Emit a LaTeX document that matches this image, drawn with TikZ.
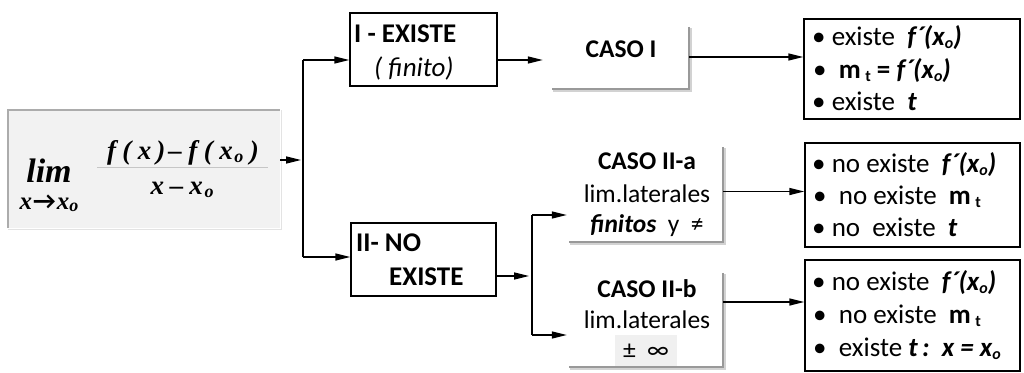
\documentclass[tikz,border=0pt]{standalone}
\usepackage{fontspec}
\setmainfont{Carlito}
\newfontfamily\tser{Liberation Serif}
\usetikzlibrary{arrows.meta}
\newcommand\sbs[1]{\raisebox{-0.3ex}{\fontsize{16}{16}\selectfont #1}}
\newcommand\msb[1]{\raisebox{-0.25ex}{\fontsize{18}{18}\selectfont #1}}
\newcommand\fp{{\bfseries\itshape f´(x\sbs{o})}}
\begin{document}
\begin{tikzpicture}[x=1pt,y=-1pt,
  conn/.style={line width=1.5pt},
  arr/.style={conn,-{Triangle[length=15pt,width=7pt]}},
  plainbox/.style={draw, line width=1.3pt, rectangle, inner sep=0},
  emptybox/.style={rectangle, inner sep=0},
  txt/.style={inner sep=0, anchor=base west, font=\fontsize{27}{28}\selectfont},
  ctxt/.style={inner sep=0, anchor=base, font=\fontsize{25.5}{27}\selectfont},
  mtxt/.style={inner sep=0, anchor=base, font=\tser\bfseries\itshape\fontsize{27}{28}\selectfont},
  shline/.style={line width=1.6pt, draw=gray!80},
  shlight/.style={line width=1.6pt, draw=gray!35}]
\useasboundingbox (0,0) rectangle (1024,372);

% limit box
\node[emptybox, fill=gray!10, minimum width=272pt, minimum height=118pt] (lim) at (144,169) {};
\draw[line width=2pt, draw=gray!65] (lim.south west) -- (lim.north west) -- (lim.north east);
\draw[line width=1.2pt, draw=gray!22] ([shift={(1pt,0pt)}]lim.north east) -- ([shift={(1pt,-1pt)}]lim.south east) -- ([shift={(0pt,-1pt)}]lim.south west);
\node[mtxt, font=\tser\bfseries\itshape\fontsize{34}{35}\selectfont] (limw) at (49,182) {lim};
\node[mtxt, font=\tser\bfseries\itshape\fontsize{25}{26}\selectfont] (limsub) at (49,209) {x\kern1pt{\normalfont\bfseries →}\kern1pt x\msb{o}};
\node[mtxt] (num) at (183,159) {f\kern6.5pt(\kern6.5pt x\kern5pt)\kern3pt–\kern6.5pt f\kern6.5pt(\kern6.5pt x\kern1.5pt\msb{o}\kern6.5pt)};
\node[mtxt] (den) at (182,194) {x\kern6pt–\kern6pt x\kern1.5pt\msb{o}};
\draw[line width=1pt, draw=gray!45] (97,167) -- (268,167);

% first level
\node[plainbox, minimum width=147pt, minimum height=73pt] (bI) at (423.5,49.5) {};
\node[txt] (bIa) at (354,42) {\bfseries I - EXISTE};
\node[txt] (bIb) at (374,76) {\itshape ( finito)};
\node[plainbox, minimum width=145pt, minimum height=73pt] (bII) at (423.5,259.5) {};
\node[txt] (bIIa) at (356,251) {\bfseries II- NO};
\node[txt] (bIIb) at (389,285) {\bfseries EXISTE};

% cases
\node[emptybox, minimum width=137pt, minimum height=62pt] (cI) at (620.5,58) {};
\node[ctxt] (cIt) at (621,57) {\bfseries CASO I};
\node[emptybox, minimum width=154pt, minimum height=95pt] (cIIa) at (646,194.5) {};
\node[ctxt] (cIIa1) at (647,169) {\bfseries CASO II-a};
\node[ctxt] (cIIa2) at (647,202) {lim.laterales};
\node[ctxt] (cIIa3) at (647,232) {{\bfseries\itshape finitos}\ \ y\ \ ≠};
\node[emptybox, minimum width=154pt, minimum height=94pt] (cIIb) at (646,320) {};
\node[ctxt] (cIIb1) at (647,297) {\bfseries CASO II-b};
\node[ctxt] (cIIb2) at (647,328) {lim.laterales};
\node[emptybox, fill=gray!12, minimum width=62pt, minimum height=32pt] (pminf) at (646,351) {};
\node[ctxt] (cIIb3) at (646,358) {±\ \ ∞};
\foreach \n in {cI,cIIa,cIIb}{
  \draw[shlight] ([shift={(1.5pt,-1.5pt)}]\n.north east) -- ([shift={(1.5pt,-1.5pt)}]\n.south east) -- ([shift={(1.5pt,-1.5pt)}]\n.south west);
  \draw[shline] (\n.north east) -- (\n.south east) -- (\n.south west);
}

% result boxes
\node[plainbox, minimum width=216pt, minimum height=100pt] (r1) at (912,69) {};
\node[txt] (r1a) at (812,45) {• existe\ \ \fp};
\node[txt] (r1b) at (813,78) {•\ \ {\bfseries m\,\sbs{t} = \itshape f´(x\sbs{o})}};
\node[txt] (r1c) at (812,110) {• existe\ \ {\bfseries\itshape t}};
\node[plainbox, minimum width=215pt, minimum height=104pt] (r2) at (912.5,195) {};
\node[txt] (r2a) at (812,172) {• no existe\ \ \fp};
\node[txt] (r2b) at (813,204) {•\ \ no existe\ \ {\bfseries m\,\sbs{t}}};
\node[txt] (r2c) at (812,236) {• no\ \ existe\ \ {\bfseries\itshape t}};
\node[plainbox, minimum width=215pt, minimum height=111pt] (r3) at (912.5,315.5) {};
\node[txt] (r3a) at (812,290) {• no existe\ \ \fp};
\node[txt] (r3b) at (813,323) {•\ \ no existe\ \ {\bfseries m\,\sbs{t}}};
\node[txt] (r3c) at (813,356) {•\ \ existe {\bfseries\itshape t\,:\ \ x = x\sbs{o}}};

% connectors
\coordinate (j1) at (303,160);
\coordinate (j1t) at (303,60);
\coordinate (j1b) at (303,257);
\draw[arr, shorten >=2pt] (lim.east |- j1) -- (j1);
\draw[conn] (j1t) -- (j1b);
\draw[arr] (j1t) -- (bI.west |- j1t);
\draw[arr] (j1b) -- (bII.west |- j1b);
\coordinate (j2) at (532,276);
\coordinate (j2t) at (532,215);
\coordinate (j2b) at (532,335);
\draw[arr, shorten >=3pt] (bII.east |- j2) -- (j2);
\draw[conn] (j2t) -- (j2b);
\draw[arr, shorten >=2pt] (j2t) -- (cIIa.west |- j2t);
\draw[arr, shorten >=2pt] (j2b) -- (cIIb.west |- j2b);
\draw[arr, shorten >=9pt] (bI.east |- j1t) -- (cI.west |- j1t);
\draw[arr] ([yshift=1pt]cI.east) coordinate (a1) -- (a1 -| r1.west);
\draw[arr] ([yshift=3pt]cIIa.east) coordinate (a2) -- (a2 -| r2.west);
\draw[arr] ([yshift=18pt]cIIb.east) coordinate (a3) -- (a3 -| r3.west);
\end{tikzpicture}
\end{document}
